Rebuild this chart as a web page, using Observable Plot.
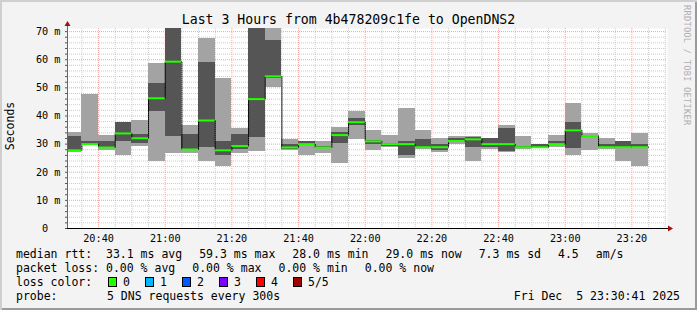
<!DOCTYPE html>
<html><head><meta charset="utf-8">
<script src="https://cdn.jsdelivr.net/npm/d3@7"></script>
<script src="https://cdn.jsdelivr.net/npm/@observablehq/plot@0.6"></script>
<style>
html,body{margin:0;padding:0;background:#f3f3f3;}
#wrap{position:relative;width:697px;height:310px;background:#f3f3f3;overflow:hidden;font-family:'DejaVu Sans Mono',monospace;color:#000;box-shadow:inset 2px 2px 0 #cfcfcf, inset -2px -2px 0 #9a9a9a;}
#wrap svg{position:absolute;left:0;top:0;}
.t{position:absolute;white-space:pre;line-height:1;}
.row span{margin-right:17px;}
</style></head><body><div id="wrap"></div>
<script>
// ---- data ----
const intervalStart = ["20:30","20:35","20:40","20:45","20:50","20:55","21:00","21:05","21:10","21:15","21:20","21:25","21:30","21:35","21:40","21:45","21:50","21:55","22:00","22:05","22:10","22:15","22:20","22:25","22:30","22:35","22:40","22:45","22:50","22:55","23:00","23:05","23:10","23:15","23:20"];
const pingMin    = [27.0,29.5,27.7,25.9,29.2,23.9,26.8,26.8,23.9,22.0,26.8,27.4,50.2,27.7,25.9,26.8,23.2,31.7,27.8,28.9,25.0,28.0,27.1,30.0,23.9,28.0,27.0,28.0,28.3,28.9,25.9,27.7,28.0,23.9,22.1];
const ping2      = [27.4,29.8,28.3,30.9,30.3,41.6,32.7,27.6,28.9,25.9,28.1,32.3,53.5,28.1,29.8,28.6,30.1,36.6,30.0,29.3,25.9,28.4,27.9,30.6,28.9,28.9,27.5,28.6,28.4,29.4,28.6,32.5,28.6,28.3,28.3];
const pingMedian = [27.8,30.0,28.8,33.8,32.1,46.3,59.3,28.1,38.4,27.8,29.3,46.0,54.1,28.8,30.0,28.8,33.2,37.8,31.0,30.0,30.0,28.9,28.9,31.1,31.7,30.0,30.0,28.9,28.9,30.0,34.9,32.9,28.9,28.9,28.9];
const ping4      = [32.7,30.9,30.9,37.6,33.4,51.5,76.0,33.4,59.0,30.9,33.4,74.0,66.9,29.9,30.9,29.0,34.1,39.2,31.2,30.1,30.9,31.7,29.8,32.1,32.4,31.9,35.5,29.2,29.9,31.0,37.7,33.1,30.0,30.9,29.9];
const pingMax    = [34.1,47.7,32.9,37.8,38.4,58.6,78.0,36.6,67.6,53.4,35.5,77.0,75.0,31.6,31.0,30.9,35.8,41.6,34.8,33.0,42.6,34.8,32.0,32.6,32.8,32.1,36.6,32.7,30.0,33.1,44.4,33.9,32.0,31.1,33.9];
const yTickValues = [0,10,20,30,40,50,60,70];
const xTickLabels = ["20:40","21:00","21:20","21:40","22:00","22:20","22:40","23:00","23:20"];
const lossColors = ["#26ff00","#00b8ff","#0059ff","#7e00ff","#ff0000","#a10000"];
const lossLabels = ["0","1","2","3","4","5/5"];
const titleText = "Last 3 Hours from 4b478209c1fe to OpenDNS2";
const medianLegend = ["median rtt:  33.1 ms avg","59.3 ms max","28.0 ms min","29.0 ms now","7.3 ms sd","4.5","am/s"];
const lossLegend = ["packet loss: 0.00 % avg","0.00 % max","0.00 % min","0.00 % now"];
const probeText = "5 DNS requests every 300s";
const dateText = "Fri Dec  5 23:30:41 2025";

// ---- build table ----
const hm = s => { const [h, m] = s.split(":").map(Number); return new Date(Date.UTC(2025, 11, 5, h, m)); };
const FIVE = 5 * 60 * 1000;
const table = intervalStart.map((s, i) => ({
  t1: hm(s), t2: new Date(+hm(s) + FIVE),
  min: pingMin[i], p2: ping2[i], med: pingMedian[i], p4: ping4[i], max: pingMax[i]
}));
const steps = table.map(d => ({t: d.t1, v: d.med}));
steps.push({t: table[table.length - 1].t2, v: table[table.length - 1].med});

const tStart = new Date(Date.UTC(2025, 11, 5, 20, 30, 41));
const tEnd = new Date(Date.UTC(2025, 11, 5, 23, 30, 41));
const majorX = xTickLabels.map(hm);
const minorX = d3.utcMinute.every(5).range(tStart, tEnd).filter(d => d.getUTCMinutes() % 20 !== 0);
const minorY = d3.range(2, 71, 2).filter(v => v % 10 !== 0);
const majorY = yTickValues.filter(v => v > 0);
const allTicksY = d3.range(0, 71, 2);

const plot = Plot.plot({
  width: 697, height: 250,
  marginLeft: 67, marginRight: 30, marginTop: 28, marginBottom: 22,
  style: {background: "transparent", fontFamily: "'DejaVu Sans Mono', monospace", fontSize: "10.2px", color: "#000"},
  x: {type: "utc", domain: [tStart, tEnd], clamp: true, label: null},
  y: {domain: [0, 71.1], clamp: true, label: null},
  marks: [
    Plot.frame({fill: "white", stroke: "none"}),
    Plot.ruleY(minorY, {stroke: "#cccccc", strokeDasharray: "1,1"}),
    Plot.ruleX(minorX, {stroke: "#cccccc", strokeDasharray: "1,1"}),
    Plot.ruleY(majorY, {stroke: "#f2a6a6", strokeDasharray: "1,1"}),
    Plot.ruleX(majorX, {stroke: "#f2a6a6", strokeDasharray: "1,1"}),
    Plot.rect(table, {x1: "t1", x2: "t2", y1: "min", y2: "max", fill: "#a3a3a3", shapeRendering: "crispEdges"}),
    Plot.rect(table, {x1: "t1", x2: "t2", y1: "p2", y2: "p4", fill: "#555555", shapeRendering: "crispEdges"}),
    Plot.line(steps, {x: "t", y: "v", curve: "step-after", stroke: "#000", strokeWidth: 1, strokeDasharray: "1,1"}),
    Plot.ruleY(table, {x1: "t1", x2: "t2", y: "med", stroke: lossColors[0], strokeWidth: 2}),
    Plot.ruleX([tStart], {stroke: "#666"}),
    Plot.ruleY([0], {stroke: "#000"}),
    Plot.axisY(allTicksY, {tickSize: 2, tickFormat: () => "", stroke: "#555"}),
    Plot.axisY(yTickValues, {tickSize: 0, tickPadding: 7, tickFormat: d => d === 0 ? "0\u00a0\u00a0" : d + " m"}),
    Plot.axisX(majorX, {tickSize: 0, tickPadding: 6, tickFormat: d3.utcFormat("%H:%M")})
  ]
});

const wrap = document.getElementById("wrap");
wrap.appendChild(plot);

// axis arrows (decoration)
const svg = d3.select(plot);
const [xl, xr] = plot.scale("x").range;
const [yb, yt] = plot.scale("y").range;
const ar = "#a01010";
svg.append("line").attr("x1", xr).attr("x2", xr + 2).attr("y1", yb + 0.5).attr("y2", yb + 0.5).attr("stroke", "#000");
svg.append("polygon").attr("points", `${xr+1},${yb-2.5} ${xr+1},${yb+3.5} ${xr+6},${yb+0.5}`).attr("fill", ar);
svg.append("line").attr("x1", xl + 0.5).attr("x2", xl + 0.5).attr("y1", yt).attr("y2", yt - 3).attr("stroke", "#666");
svg.append("polygon").attr("points", `${xl-2.5},${yt-2} ${xl+3.5},${yt-2} ${xl+0.5},${yt-7}`).attr("fill", ar);

// ---- texts ----
function txt(s, x, baseline, size, extra = {}) {
  const el = document.createElement("div");
  el.className = "t";
  el.textContent = s;
  el.style.left = x + "px";
  el.style.top = (baseline - 0.846 * size) + "px";
  el.style.fontSize = size + "px";
  Object.assign(el.style, extra);
  wrap.appendChild(el);
  return el;
}
function row(items, x, baseline, size) {
  const el = txt("", x, baseline, size);
  el.classList.add("row");
  items.forEach(s => { const sp = document.createElement("span"); sp.textContent = s; el.appendChild(sp); });
  return el;
}
txt(titleText, 0, 24, 13.2, {width: "697px", textAlign: "center"});
txt("Seconds", 10.5, 126, 11.5, {transform: "translate(-50%,-50%) rotate(-90deg)", top: "126px", lineHeight: "1"});
txt("RRDTOOL / TOBI OETIKER", 682, 0, 8.6, {writingMode: "vertical-rl", top: "5px", color: "#b0b0b0", letterSpacing: "0.3px"});
row(medianLegend, 16, 258.3, 11.5);
row(lossLegend, 16, 272.3, 11.5);
txt("loss color:", 16, 286.3, 11.5);
const boxX = [108, 145, 182, 219, 256, 293];
lossLabels.forEach((l, i) => {
  const b = document.createElement("div");
  Object.assign(b.style, {position: "absolute", left: boxX[i] + "px", top: "277px", width: "9px", height: "10px", boxSizing: "border-box", border: "1px solid #000", background: lossColors[i]});
  wrap.appendChild(b);
  txt(l, boxX[i] + 15, 286.3, 11.5);
});
txt("probe:", 16, 300.3, 11.5);
txt(probeText, 107, 300.3, 11.5);
const dt = txt(dateText, 0, 300.3, 11.5);
dt.style.left = "auto"; dt.style.right = "17px";
</script></body></html>
